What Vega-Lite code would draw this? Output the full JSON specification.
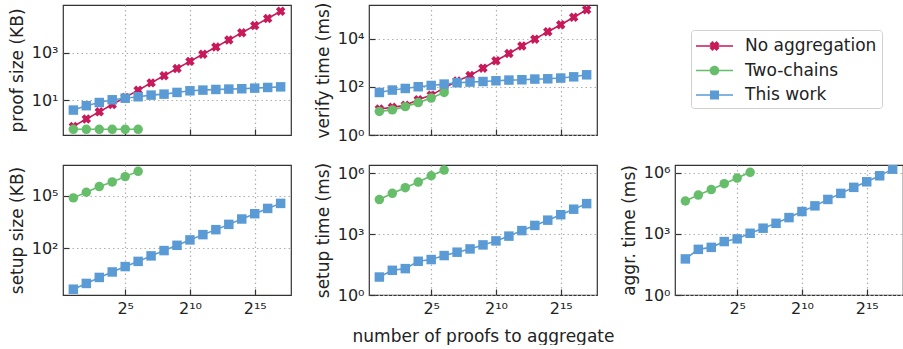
{
  "$schema": "https://vega.github.io/schema/vega-lite/v6.json",
  "padding": {"left": 7, "top": 1, "right": 0, "bottom": 0},
  "background": "white",
  "datasets": {
    "d": [
      {"m":"proof","s":"No aggregation","n":2,"v":0.78},
      {"m":"proof","s":"No aggregation","n":4,"v":1.6},
      {"m":"proof","s":"No aggregation","n":8,"v":3.2},
      {"m":"proof","s":"No aggregation","n":16,"v":6.5},
      {"m":"proof","s":"No aggregation","n":32,"v":13},
      {"m":"proof","s":"No aggregation","n":64,"v":26},
      {"m":"proof","s":"No aggregation","n":128,"v":53},
      {"m":"proof","s":"No aggregation","n":256,"v":106},
      {"m":"proof","s":"No aggregation","n":512,"v":212},
      {"m":"proof","s":"No aggregation","n":1024,"v":425},
      {"m":"proof","s":"No aggregation","n":2048,"v":850},
      {"m":"proof","s":"No aggregation","n":4096,"v":1700},
      {"m":"proof","s":"No aggregation","n":8192,"v":3400},
      {"m":"proof","s":"No aggregation","n":16384,"v":6800},
      {"m":"proof","s":"No aggregation","n":32768,"v":13600},
      {"m":"proof","s":"No aggregation","n":65536,"v":27200},
      {"m":"proof","s":"No aggregation","n":131072,"v":54400},
      {"m":"proof","s":"Two-chains","n":2,"v":0.59},
      {"m":"proof","s":"Two-chains","n":4,"v":0.59},
      {"m":"proof","s":"Two-chains","n":8,"v":0.59},
      {"m":"proof","s":"Two-chains","n":16,"v":0.59},
      {"m":"proof","s":"Two-chains","n":32,"v":0.59},
      {"m":"proof","s":"Two-chains","n":64,"v":0.59},
      {"m":"proof","s":"This work","n":2,"v":3.8},
      {"m":"proof","s":"This work","n":4,"v":5.8},
      {"m":"proof","s":"This work","n":8,"v":7.9},
      {"m":"proof","s":"This work","n":16,"v":10.3},
      {"m":"proof","s":"This work","n":32,"v":12},
      {"m":"proof","s":"This work","n":64,"v":13.8},
      {"m":"proof","s":"This work","n":128,"v":16.2},
      {"m":"proof","s":"This work","n":256,"v":17.8},
      {"m":"proof","s":"This work","n":512,"v":21},
      {"m":"proof","s":"This work","n":1024,"v":24.6},
      {"m":"proof","s":"This work","n":2048,"v":26.3},
      {"m":"proof","s":"This work","n":4096,"v":28},
      {"m":"proof","s":"This work","n":8192,"v":29},
      {"m":"proof","s":"This work","n":16384,"v":30},
      {"m":"proof","s":"This work","n":32768,"v":31.8},
      {"m":"proof","s":"This work","n":65536,"v":34},
      {"m":"proof","s":"This work","n":131072,"v":36},

      {"m":"verify","s":"No aggregation","n":2,"v":12},
      {"m":"verify","s":"No aggregation","n":4,"v":14},
      {"m":"verify","s":"No aggregation","n":8,"v":17},
      {"m":"verify","s":"No aggregation","n":16,"v":29},
      {"m":"verify","s":"No aggregation","n":32,"v":45},
      {"m":"verify","s":"No aggregation","n":64,"v":89},
      {"m":"verify","s":"No aggregation","n":128,"v":173},
      {"m":"verify","s":"No aggregation","n":256,"v":293},
      {"m":"verify","s":"No aggregation","n":512,"v":590},
      {"m":"verify","s":"No aggregation","n":1024,"v":1200},
      {"m":"verify","s":"No aggregation","n":2048,"v":2400},
      {"m":"verify","s":"No aggregation","n":4096,"v":4900},
      {"m":"verify","s":"No aggregation","n":8192,"v":9400},
      {"m":"verify","s":"No aggregation","n":16384,"v":19000},
      {"m":"verify","s":"No aggregation","n":32768,"v":37000},
      {"m":"verify","s":"No aggregation","n":65536,"v":76000},
      {"m":"verify","s":"No aggregation","n":131072,"v":155000},
      {"m":"verify","s":"Two-chains","n":2,"v":9.5},
      {"m":"verify","s":"Two-chains","n":4,"v":11},
      {"m":"verify","s":"Two-chains","n":8,"v":15},
      {"m":"verify","s":"Two-chains","n":16,"v":22},
      {"m":"verify","s":"Two-chains","n":32,"v":34},
      {"m":"verify","s":"Two-chains","n":64,"v":58},
      {"m":"verify","s":"This work","n":2,"v":58},
      {"m":"verify","s":"This work","n":4,"v":73},
      {"m":"verify","s":"This work","n":8,"v":85},
      {"m":"verify","s":"This work","n":16,"v":100},
      {"m":"verify","s":"This work","n":32,"v":113},
      {"m":"verify","s":"This work","n":64,"v":129},
      {"m":"verify","s":"This work","n":128,"v":147},
      {"m":"verify","s":"This work","n":256,"v":156},
      {"m":"verify","s":"This work","n":512,"v":165},
      {"m":"verify","s":"This work","n":1024,"v":177},
      {"m":"verify","s":"This work","n":2048,"v":189},
      {"m":"verify","s":"This work","n":4096,"v":195},
      {"m":"verify","s":"This work","n":8192,"v":208},
      {"m":"verify","s":"This work","n":16384,"v":214},
      {"m":"verify","s":"This work","n":32768,"v":229},
      {"m":"verify","s":"This work","n":65536,"v":258},
      {"m":"verify","s":"This work","n":131072,"v":313},

      {"m":"ssize","s":"Two-chains","n":2,"v":74000},
      {"m":"ssize","s":"Two-chains","n":4,"v":155000},
      {"m":"ssize","s":"Two-chains","n":8,"v":325000},
      {"m":"ssize","s":"Two-chains","n":16,"v":600000},
      {"m":"ssize","s":"Two-chains","n":32,"v":1200000},
      {"m":"ssize","s":"Two-chains","n":64,"v":2400000},
      {"m":"ssize","s":"This work","n":2,"v":0.47},
      {"m":"ssize","s":"This work","n":4,"v":1.0},
      {"m":"ssize","s":"This work","n":8,"v":2.2},
      {"m":"ssize","s":"This work","n":16,"v":4.5},
      {"m":"ssize","s":"This work","n":32,"v":9.1},
      {"m":"ssize","s":"This work","n":64,"v":18},
      {"m":"ssize","s":"This work","n":128,"v":37},
      {"m":"ssize","s":"This work","n":256,"v":74},
      {"m":"ssize","s":"This work","n":512,"v":148},
      {"m":"ssize","s":"This work","n":1024,"v":300},
      {"m":"ssize","s":"This work","n":2048,"v":600},
      {"m":"ssize","s":"This work","n":4096,"v":1150},
      {"m":"ssize","s":"This work","n":8192,"v":2300},
      {"m":"ssize","s":"This work","n":16384,"v":4650},
      {"m":"ssize","s":"This work","n":32768,"v":9300},
      {"m":"ssize","s":"This work","n":65536,"v":18600},
      {"m":"ssize","s":"This work","n":131072,"v":36000},

      {"m":"stime","s":"Two-chains","n":2,"v":51000},
      {"m":"stime","s":"Two-chains","n":4,"v":103000},
      {"m":"stime","s":"Two-chains","n":8,"v":195000},
      {"m":"stime","s":"Two-chains","n":16,"v":370000},
      {"m":"stime","s":"Two-chains","n":32,"v":760000},
      {"m":"stime","s":"Two-chains","n":64,"v":1450000},
      {"m":"stime","s":"This work","n":2,"v":7.7},
      {"m":"stime","s":"This work","n":4,"v":16.5},
      {"m":"stime","s":"This work","n":8,"v":20},
      {"m":"stime","s":"This work","n":16,"v":46},
      {"m":"stime","s":"This work","n":32,"v":56},
      {"m":"stime","s":"This work","n":64,"v":88},
      {"m":"stime","s":"This work","n":128,"v":129},
      {"m":"stime","s":"This work","n":256,"v":187},
      {"m":"stime","s":"This work","n":512,"v":295},
      {"m":"stime","s":"This work","n":1024,"v":465},
      {"m":"stime","s":"This work","n":2048,"v":800},
      {"m":"stime","s":"This work","n":4096,"v":1500},
      {"m":"stime","s":"This work","n":8192,"v":2700},
      {"m":"stime","s":"This work","n":16384,"v":4900},
      {"m":"stime","s":"This work","n":32768,"v":9100},
      {"m":"stime","s":"This work","n":65536,"v":17000},
      {"m":"stime","s":"This work","n":131072,"v":32000},

      {"m":"aggr","s":"Two-chains","n":2,"v":41000},
      {"m":"aggr","s":"Two-chains","n":4,"v":80000},
      {"m":"aggr","s":"Two-chains","n":8,"v":150000},
      {"m":"aggr","s":"Two-chains","n":16,"v":290000},
      {"m":"aggr","s":"Two-chains","n":32,"v":550000},
      {"m":"aggr","s":"Two-chains","n":64,"v":1050000},
      {"m":"aggr","s":"This work","n":2,"v":59},
      {"m":"aggr","s":"This work","n":4,"v":174},
      {"m":"aggr","s":"This work","n":8,"v":218},
      {"m":"aggr","s":"This work","n":16,"v":420},
      {"m":"aggr","s":"This work","n":32,"v":570},
      {"m":"aggr","s":"This work","n":64,"v":1070},
      {"m":"aggr","s":"This work","n":128,"v":1900},
      {"m":"aggr","s":"This work","n":256,"v":3300},
      {"m":"aggr","s":"This work","n":512,"v":6300},
      {"m":"aggr","s":"This work","n":1024,"v":12500},
      {"m":"aggr","s":"This work","n":2048,"v":23700},
      {"m":"aggr","s":"This work","n":4096,"v":49000},
      {"m":"aggr","s":"This work","n":8192,"v":97000},
      {"m":"aggr","s":"This work","n":16384,"v":192000},
      {"m":"aggr","s":"This work","n":32768,"v":360000},
      {"m":"aggr","s":"This work","n":65536,"v":710000},
      {"m":"aggr","s":"This work","n":131072,"v":1500000}
    ]
  },
  "data": {"name": "d"},
  "config": {
    "font": "DejaVu Sans",
    "view": {"stroke": "#333333", "strokeWidth": 1.2},
    "axis": {
      "domain": false, "grid": true, "gridColor": "#b0b0b0", "gridDash": [1.5, 3], "gridWidth": 1.2,
      "ticks": true, "tickColor": "#333333", "tickWidth": 1.2, "tickSize": -6,
      "labelFont": "DejaVu Sans", "labelFontSize": 16, "labelColor": "#222222",
      "titleFont": "DejaVu Sans", "titleFontSize": 17, "titleFontWeight": "normal", "titleColor": "#222222"
    },
    "axisX": {"labelPadding": 11, "titlePadding": 12},
    "axisY": {"labelPadding": 11, "titlePadding": 5}
  },
  "columns": 3,
  "spacing": {"row": 30, "column": 78},
  "bounds": "flush",
  "resolve": {"scale": {"shape": "independent"}, "legend": {"color": "independent", "shape": "independent"}},
  "concat": [
    {
      "width": 228, "height": 130,
      "transform": [{"filter": "datum.m === 'proof'"}],
      "encoding": {
        "x": {"field": "n", "type": "quantitative", "scale": {"type": "log", "base": 2, "domain": [1.1487, 228170], "nice": false}, "axis": {"values": [32, 1024, 32768], "labels": false, "title": null}},
        "y": {"field": "v", "type": "quantitative", "scale": {"type": "log", "domain": [0.34, 100000], "nice": false}, "axis": {"values": [10, 1000], "title": "proof size (KB)", "labelExpr": "'10' + ['⁰','¹','²','³','⁴','⁵','⁶'][round(log(datum.value)/LN10)]"}},
        "color": {"field": "s", "type": "nominal", "scale": {"domain": ["No aggregation", "Two-chains", "This work"], "range": ["#C8195A", "#66BD6A", "#5B9BD5"]}, "legend": null}
      },
      "layer": [
        {"mark": {"type": "line", "strokeWidth": 1.6, "clip": true}},
        {"mark": {"type": "point", "filled": true, "opacity": 1, "size": 90, "clip": true},
         "encoding": {"shape": {"field": "s", "type": "nominal", "scale": {"domain": ["No aggregation", "Two-chains", "This work"], "range": ["M-0.41,1L0,0.59L0.41,1L1,0.41L0.59,0L1,-0.41L0.41,-1L0,-0.59L-0.41,-1L-1,-0.41L-0.59,0L-1,0.41Z", "circle", "square"]}, "legend": null}}}
      ]
    },
    {
      "width": 228, "height": 130,
      "transform": [{"filter": "datum.m === 'verify'"}],
      "encoding": {
        "x": {"field": "n", "type": "quantitative", "scale": {"type": "log", "base": 2, "domain": [1.1487, 228170], "nice": false}, "axis": {"values": [32, 1024, 32768], "labels": false, "title": null}},
        "y": {"field": "v", "type": "quantitative", "scale": {"type": "log", "domain": [1, 245000], "nice": false}, "axis": {"values": [1, 100, 10000], "title": "verify time (ms)", "labelExpr": "'10' + ['⁰','¹','²','³','⁴','⁵','⁶'][round(log(datum.value)/LN10)]"}},
        "color": {"field": "s", "type": "nominal", "scale": {"domain": ["No aggregation", "Two-chains", "This work"], "range": ["#C8195A", "#66BD6A", "#5B9BD5"]}, "legend": null}
      },
      "layer": [
        {"mark": {"type": "line", "strokeWidth": 1.6, "clip": true}},
        {"mark": {"type": "point", "filled": true, "opacity": 1, "size": 90, "clip": true},
         "encoding": {"shape": {"field": "s", "type": "nominal", "scale": {"domain": ["No aggregation", "Two-chains", "This work"], "range": ["M-0.41,1L0,0.59L0.41,1L1,0.41L0.59,0L1,-0.41L0.41,-1L0,-0.59L-0.41,-1L-1,-0.41L-0.59,0L-1,0.41Z", "circle", "square"]}, "legend": null}}}
      ]
    },
    {
      "width": 228, "height": 130,
      "view": {"stroke": null},
      "transform": [{"filter": "false"}],
      "mark": {"type": "point", "filled": true, "opacity": 1},
      "encoding": {
        "color": {"field": "s", "type": "nominal", "scale": {"domain": ["No aggregation", "Two-chains", "This work"], "range": ["#C8195A", "#66BD6A", "#5B9BD5"]},
          "legend": {
            "title": null, "orient": "none", "legendX": 16, "legendY": 25,
            "padding": 5, "rowPadding": 5.5, "symbolSize": 400, "symbolOffset": 7.5, "labelOffset": 19.5,
            "labelFont": "DejaVu Sans", "labelFontSize": 17, "labelColor": "#222222",
            "strokeColor": "#d0d0d0", "fillColor": "white", "cornerRadius": 3, "symbolOpacity": 1
          }},
        "shape": {"field": "s", "type": "nominal",
          "scale": {"domain": ["No aggregation", "Two-chains", "This work"], "range": [
            "M-1.85,-0.075V0.075H1.85V-0.075ZM-0.205,0.5L0,0.295L0.205,0.5L0.5,0.205L0.295,0L0.5,-0.205L0.205,-0.5L0,-0.295L-0.205,-0.5L-0.5,-0.205L-0.295,0L-0.5,0.205Z",
            "M-1.85,-0.075V0.075H1.85V-0.075ZM-0.48,0A0.48,0.48,0,1,0,0.48,0A0.48,0.48,0,1,0,-0.48,0Z",
            "M-1.85,-0.075V0.075H1.85V-0.075ZM-0.45,-0.45V0.45H0.45V-0.45Z"]},
          "legend": {
            "title": null, "orient": "none", "legendX": 16, "legendY": 25,
            "padding": 5, "rowPadding": 5.5, "symbolSize": 400, "symbolOffset": 7.5, "labelOffset": 19.5,
            "labelFont": "DejaVu Sans", "labelFontSize": 17, "labelColor": "#222222",
            "strokeColor": "#d0d0d0", "fillColor": "white", "cornerRadius": 3, "symbolOpacity": 1
          }}
      }
    },
    {
      "width": 228, "height": 130,
      "transform": [{"filter": "datum.m === 'ssize'"}],
      "encoding": {
        "x": {"field": "n", "type": "quantitative", "scale": {"type": "log", "base": 2, "domain": [1.1487, 228170], "nice": false}, "axis": {"values": [32, 1024, 32768], "title": null, "labelExpr": "datum.value == 32 ? '2⁵' : datum.value == 1024 ? '2¹⁰' : '2¹⁵'"}},
        "y": {"field": "v", "type": "quantitative", "scale": {"type": "log", "domain": [0.22, 5500000], "nice": false}, "axis": {"values": [100, 100000], "title": "setup size (KB)", "labelExpr": "'10' + ['⁰','¹','²','³','⁴','⁵','⁶'][round(log(datum.value)/LN10)]"}},
        "color": {"field": "s", "type": "nominal", "scale": {"domain": ["No aggregation", "Two-chains", "This work"], "range": ["#C8195A", "#66BD6A", "#5B9BD5"]}, "legend": null}
      },
      "layer": [
        {"mark": {"type": "line", "strokeWidth": 1.6, "clip": true}},
        {"mark": {"type": "point", "filled": true, "opacity": 1, "size": 90, "clip": true},
         "encoding": {"shape": {"field": "s", "type": "nominal", "scale": {"domain": ["No aggregation", "Two-chains", "This work"], "range": ["M-0.41,1L0,0.59L0.41,1L1,0.41L0.59,0L1,-0.41L0.41,-1L0,-0.59L-0.41,-1L-1,-0.41L-0.59,0L-1,0.41Z", "circle", "square"]}, "legend": null}}}
      ]
    },
    {
      "width": 228, "height": 130,
      "transform": [{"filter": "datum.m === 'stime'"}],
      "encoding": {
        "x": {"field": "n", "type": "quantitative", "scale": {"type": "log", "base": 2, "domain": [1.1487, 228170], "nice": false}, "axis": {"values": [32, 1024, 32768], "title": "number of proofs to aggregate", "labelExpr": "datum.value == 32 ? '2⁵' : datum.value == 1024 ? '2¹⁰' : '2¹⁵'"}},
        "y": {"field": "v", "type": "quantitative", "scale": {"type": "log", "domain": [1, 2570000], "nice": false}, "axis": {"values": [1, 1000, 1000000], "title": "setup time (ms)", "labelExpr": "'10' + ['⁰','¹','²','³','⁴','⁵','⁶'][round(log(datum.value)/LN10)]"}},
        "color": {"field": "s", "type": "nominal", "scale": {"domain": ["No aggregation", "Two-chains", "This work"], "range": ["#C8195A", "#66BD6A", "#5B9BD5"]}, "legend": null}
      },
      "layer": [
        {"mark": {"type": "line", "strokeWidth": 1.6, "clip": true}},
        {"mark": {"type": "point", "filled": true, "opacity": 1, "size": 90, "clip": true},
         "encoding": {"shape": {"field": "s", "type": "nominal", "scale": {"domain": ["No aggregation", "Two-chains", "This work"], "range": ["M-0.41,1L0,0.59L0.41,1L1,0.41L0.59,0L1,-0.41L0.41,-1L0,-0.59L-0.41,-1L-1,-0.41L-0.59,0L-1,0.41Z", "circle", "square"]}, "legend": null}}}
      ]
    },
    {
      "width": 228, "height": 130,
      "transform": [{"filter": "datum.m === 'aggr'"}],
      "encoding": {
        "x": {"field": "n", "type": "quantitative", "scale": {"type": "log", "base": 2, "domain": [1.1487, 228170], "nice": false}, "axis": {"values": [32, 1024, 32768], "title": null, "labelExpr": "datum.value == 32 ? '2⁵' : datum.value == 1024 ? '2¹⁰' : '2¹⁵'"}},
        "y": {"field": "v", "type": "quantitative", "scale": {"type": "log", "domain": [1, 2400000], "nice": false}, "axis": {"values": [1, 1000, 1000000], "title": "aggr. time (ms)", "labelExpr": "'10' + ['⁰','¹','²','³','⁴','⁵','⁶'][round(log(datum.value)/LN10)]"}},
        "color": {"field": "s", "type": "nominal", "scale": {"domain": ["No aggregation", "Two-chains", "This work"], "range": ["#C8195A", "#66BD6A", "#5B9BD5"]}, "legend": null}
      },
      "layer": [
        {"mark": {"type": "line", "strokeWidth": 1.6, "clip": true}},
        {"mark": {"type": "point", "filled": true, "opacity": 1, "size": 90, "clip": true},
         "encoding": {"shape": {"field": "s", "type": "nominal", "scale": {"domain": ["No aggregation", "Two-chains", "This work"], "range": ["M-0.41,1L0,0.59L0.41,1L1,0.41L0.59,0L1,-0.41L0.41,-1L0,-0.59L-0.41,-1L-1,-0.41L-0.59,0L-1,0.41Z", "circle", "square"]}, "legend": null}}}
      ]
    }
  ]
}
